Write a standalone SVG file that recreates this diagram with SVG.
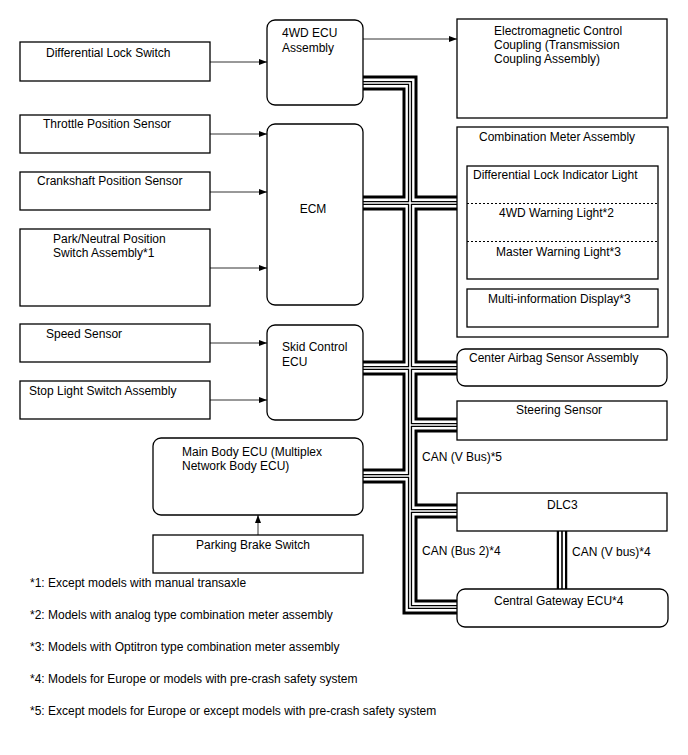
<svg xmlns="http://www.w3.org/2000/svg" width="688" height="755" viewBox="0 0 688 755">
<defs>
<marker id="ah" markerWidth="8" markerHeight="6" refX="8" refY="3" orient="auto" markerUnits="userSpaceOnUse"><path d="M0,0 L8,3 L0,6 z" fill="#000"/></marker>
<path id="bus" d="M363,83 H410 V607 H457 M363,203 H457 M363,368 H457 M410,425 H457 M363,476 H410 M410,511 H457"/>
<path id="vbus" d="M562,531 V589"/>
</defs>
<style>
.box{fill:#fff;stroke:#000;stroke-width:1.3}
.t{font-family:"Liberation Sans",Arial,sans-serif;font-size:12px;fill:#000}
.arr{stroke:#333;stroke-width:1;fill:none;marker-end:url(#ah)}
.dash{stroke:#000;stroke-width:1;stroke-dasharray:2 2;fill:none}
.l1{fill:none;stroke:#000;stroke-width:15;stroke-linejoin:miter}
.l2{fill:none;stroke:#fff;stroke-width:9;stroke-linejoin:miter}
.l3{fill:none;stroke:#000;stroke-width:4.2;stroke-linejoin:miter}
.l4{fill:none;stroke:#fff;stroke-width:1.6;stroke-linejoin:miter}
.v1{fill:none;stroke:#000;stroke-width:10.5}
.v2{fill:none;stroke:#fff;stroke-width:6}
.v3{fill:none;stroke:#000;stroke-width:1.6}
</style>
<rect width="688" height="755" fill="#fff"/>
<g id="connectors">
<use href="#bus" class="l1"/>
<use href="#bus" class="l2"/>
<use href="#bus" class="l3"/>
<use href="#bus" class="l4"/>
<use href="#vbus" class="v1"/>
<use href="#vbus" class="v2"/>
<use href="#vbus" class="v3"/>
<line class="arr" x1="210" y1="62" x2="267" y2="62"/>
<line class="arr" x1="363" y1="39" x2="457" y2="39"/>
<line class="arr" x1="210" y1="134" x2="267" y2="134"/>
<line class="arr" x1="210" y1="192" x2="267" y2="192"/>
<line class="arr" x1="210" y1="268" x2="267" y2="268"/>
<line class="arr" x1="210" y1="343" x2="267" y2="343"/>
<line class="arr" x1="210" y1="400" x2="267" y2="400"/>
<line class="arr" x1="258" y1="535" x2="258" y2="515"/>
<text class="t" x="422" y="461">CAN (V Bus)*5</text>
<text class="t" x="422" y="555">CAN (Bus 2)*4</text>
<text class="t" x="572" y="556">CAN (V bus)*4</text>
</g>
<g id="diff-lock-switch"><rect class="box" x="20" y="42" width="190" height="39"/><text class="t" x="46" y="57">Differential Lock Switch</text></g>
<g id="throttle-sensor"><rect class="box" x="20" y="115" width="190" height="38"/><text class="t" x="43" y="128">Throttle Position Sensor</text></g>
<g id="crankshaft-sensor"><rect class="box" x="20" y="172" width="190" height="38"/><text class="t" x="37" y="185">Crankshaft Position Sensor</text></g>
<g id="park-neutral-switch"><rect class="box" x="20" y="229" width="190" height="77"/><text class="t" x="53" y="243">Park/Neutral Position</text><text class="t" x="53" y="257">Switch Assembly*1</text></g>
<g id="speed-sensor"><rect class="box" x="20" y="324" width="190" height="38"/><text class="t" x="46" y="338">Speed Sensor</text></g>
<g id="stop-light-switch"><rect class="box" x="20" y="381" width="190" height="38"/><text class="t" x="29" y="395">Stop Light Switch Assembly</text></g>
<g id="ecu-4wd"><rect class="box" x="267" y="20" width="96" height="85" rx="8"/><text class="t" x="282" y="37">4WD ECU</text><text class="t" x="282" y="52">Assembly</text></g>
<g id="ecm"><rect class="box" x="267" y="124" width="96" height="181" rx="8"/><text class="t" x="313" y="213" text-anchor="middle">ECM</text></g>
<g id="skid-control-ecu"><rect class="box" x="267" y="325" width="96" height="95" rx="8"/><text class="t" x="282" y="351">Skid Control</text><text class="t" x="282" y="366">ECU</text></g>
<g id="main-body-ecu"><rect class="box" x="153" y="438" width="210" height="77" rx="8"/><text class="t" x="182" y="456">Main Body ECU (Multiplex</text><text class="t" x="182" y="470">Network Body ECU)</text></g>
<g id="parking-brake-switch"><rect class="box" x="153" y="535" width="210" height="38"/><text class="t" x="196" y="549">Parking Brake Switch</text></g>
<g id="em-coupling"><rect class="box" x="457" y="19" width="210" height="99"/><text class="t" x="494" y="35">Electromagnetic Control</text><text class="t" x="494" y="49">Coupling (Transmission</text><text class="t" x="494" y="63">Coupling Assembly)</text></g>
<g id="combination-meter"><rect class="box" x="457" y="127" width="211" height="210"/><text class="t" x="479" y="141">Combination Meter Assembly</text>
<rect class="box" x="467" y="166" width="191" height="113"/>
<line class="dash" x1="467" y1="203.5" x2="658" y2="203.5"/>
<line class="dash" x1="467" y1="241.5" x2="658" y2="241.5"/>
<text class="t" x="473" y="179">Differential Lock Indicator Light</text>
<text class="t" x="499" y="217">4WD Warning Light*2</text>
<text class="t" x="496" y="256">Master Warning Light*3</text>
<rect class="box" x="467" y="289" width="191" height="38"/>
<text class="t" x="488" y="303">Multi-information Display*3</text></g>
<g id="center-airbag-sensor"><rect class="box" x="457" y="349" width="210" height="37" rx="8"/><text class="t" x="469" y="362">Center Airbag Sensor Assembly</text></g>
<g id="steering-sensor"><rect class="box" x="457" y="401" width="210" height="39"/><text class="t" x="516" y="414">Steering Sensor</text></g>
<g id="dlc3"><rect class="box" x="457" y="493" width="210" height="38"/><text class="t" x="547" y="509">DLC3</text></g>
<g id="central-gateway-ecu"><rect class="box" x="457" y="589" width="211" height="38" rx="8"/><text class="t" x="494" y="605">Central Gateway ECU*4</text></g>
<g id="footnotes">
<text class="t" x="30" y="587">*1: Except models with manual transaxle</text>
<text class="t" x="30" y="619">*2: Models with analog type combination meter assembly</text>
<text class="t" x="30" y="651">*3: Models with Optitron type combination meter assembly</text>
<text class="t" x="30" y="683">*4: Models for Europe or models with pre-crash safety system</text>
<text class="t" x="30" y="715">*5: Except models for Europe or except models with pre-crash safety system</text>
</g>
</svg>
